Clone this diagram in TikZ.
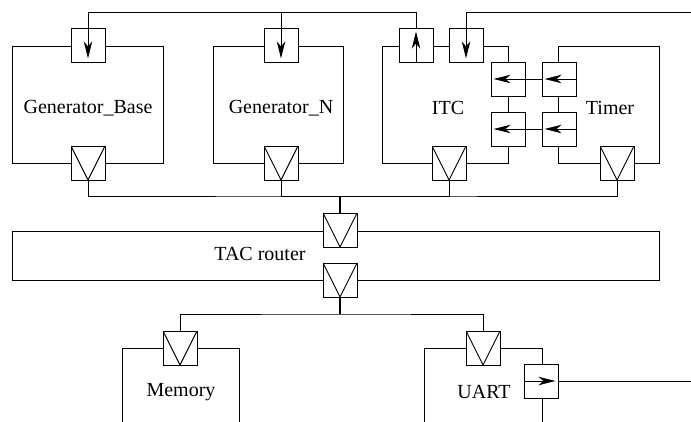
\documentclass[tikz,border=0pt]{standalone}
\usepackage{fontspec}
\setmainfont{Liberation Serif}
\usetikzlibrary{arrows.meta}

\tikzset{
	block/.style={draw, rectangle, inner sep=0pt},
	port/.style={draw, fill=white, rectangle, minimum size=34pt, inner sep=0pt},
	busport/.style={port, path picture={\draw (path picture bounding box.north west) -- (path picture bounding box.south) -- (path picture bounding box.north east);}},
	arr/.style={-{Stealth[length=17pt, width=8.5pt, inset=5pt]}},
	blocklabel/.style={font=\rmfamily\fontsize{20}{24}\selectfont, inner sep=0pt},
}

\begin{document}
\begin{tikzpicture}[x=1pt, y=-1pt, line width=0.9pt]
	\useasboundingbox (0,0) rectangle (691,422);
	\clip (0,0) rectangle (691,422);
	% Blocks:
	\node[block, minimum width=151pt, minimum height=117pt] (gbase) at (87.5,104.5) {};
	\node[block, minimum width=130pt, minimum height=117pt] (gn) at (278,104.5) {};
	\node[block, minimum width=126pt, minimum height=117pt] (itc) at (445,104.5) {};
	\node[block, minimum width=101pt, minimum height=117pt] (timer) at (608.5,104.5) {};
	\node[block, minimum width=647pt, minimum height=49pt] (tac) at (335.5,255.5) {};
	\node[block, minimum width=117pt, minimum height=100pt] (mem) at (180.5,398) {};
	\node[block, minimum width=118pt, minimum height=100pt] (uart) at (483,398) {};
	\node[blocklabel] (gbasel) at (88,108) {Generator\_Base};
	\node[blocklabel] (gnl) at (281,108) {Generator\_N};
	\node[blocklabel] (itcl) at (448,108) {ITC};
	\node[blocklabel] (timerl) at (610,108) {Timer};
	\node[blocklabel] (tacl) at (260,254) {TAC router};
	\node[blocklabel] (meml) at (181,392) {Memory};
	\node[blocklabel] (uartl) at (484,392) {UART};
	% Ports:
	\node[port] (gbin) at (88,45) {};
	\node[busport] (gbbus) at (88,163) {};
	\node[port] (gnin) at (281,45) {};
	\node[busport] (gnbus) at (281,163) {};
	\node[port] (itcout) at (416,45) {};
	\node[port] (itcin) at (466,45) {};
	\node[busport] (itcbus) at (449,163) {};
	\node[port] (itca) at (508,79) {};
	\node[port] (itcb) at (508,129) {};
	\node[port] (tima) at (559,79) {};
	\node[port] (timb) at (559,129) {};
	\node[busport] (timbus) at (617,163) {};
	\node[busport] (tacin) at (340,230) {};
	\node[busport] (tacout) at (340,280) {};
	\node[busport] (membus) at (180,348) {};
	\node[busport] (uartbus) at (483,348) {};
	\node[port] (uartout) at (541,381) {};
	% Wires:
	\coordinate (topa) at (88,12);
	\coordinate (topb) at (691,12);
	\coordinate (bus) at (340,196);
	\coordinate (bus2) at (340,314);
	\coordinate (uartend) at (691,381);
	\draw (itcout.north) |- (topa);
	\draw[arr, shorten >=4pt] (itcout.south) -- (itcout.north);
	\draw[arr, shorten >=4pt] (topa) -- (gbin.south);
	\draw[arr, shorten >=4pt] (gnin.north |- topa) -- (gnin.south);
	\draw[arr, shorten >=4pt] (topb) -| (itcin.south);
	\draw[arr, shorten >=3pt] (tima.east) -- (tima.west);
	\draw[arr, shorten >=3pt] (tima.west) -- (itca.west);
	\draw[arr, shorten >=3pt] (timb.east) -- (timb.west);
	\draw[arr, shorten >=3pt] (timb.west) -- (itcb.west);
	\draw (gbbus.south) |- (bus) -| (timbus.south);
	\draw (gnbus.south) |- (bus);
	\draw (itcbus.south) |- (bus);
	\draw[line width=1.6pt] (bus) -- (tacin.north);
	\draw[line width=1.6pt] (tacout.south) -- (bus2);
	\draw (membus.north) |- (bus2) -| (uartbus.north);
	\draw[arr, shorten >=3pt] (uartout.west) -- (uartout.east);
	\draw (uartout.east) -- (uartend);
\end{tikzpicture}
\end{document}
